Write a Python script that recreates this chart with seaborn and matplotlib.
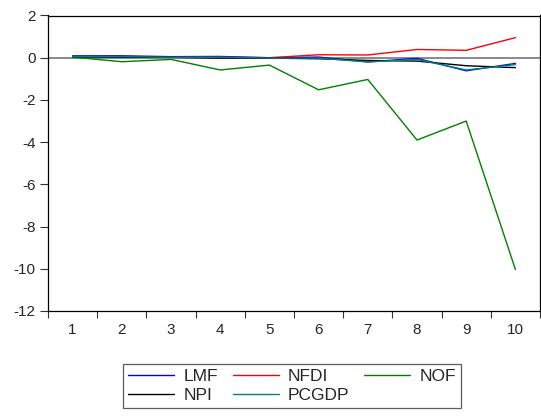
import matplotlib
matplotlib.use("Agg")
import matplotlib.pyplot as plt
import seaborn as sns
import pandas as pd
from matplotlib.ticker import FixedLocator

periods = [1, 2, 3, 4, 5, 6, 7, 8, 9, 10]
lmf = [0.09, 0.09, 0.05, 0.06, 0.00, 0.03, -0.20, -0.03, -0.62, -0.27]
nfdi = [0.05, 0.05, 0.02, 0.02, 0.00, 0.14, 0.13, 0.39, 0.35, 0.95]
nof = [0.03, -0.19, -0.08, -0.58, -0.35, -1.52, -1.03, -3.90, -3.00, -10.03]
npi = [0.05, 0.02, 0.02, -0.02, -0.02, -0.05, -0.13, -0.16, -0.38, -0.47]
pcgdp = [0.06, 0.05, 0.02, 0.02, -0.02, -0.02, -0.20, -0.08, -0.58, -0.33]

series_names = ["LMF", "NFDI", "NOF", "NPI", "PCGDP"]
series_values = [lmf, nfdi, nof, npi, pcgdp]
colors = ["#0000FF", "#FF0000", "#008000", "#000000", "#008080"]

df = pd.DataFrame(
    [(p, name, v) for name, vals in zip(series_names, series_values)
     for p, v in zip(periods, vals)],
    columns=["period", "series", "value"],
)

sns.set_style("white")
plt.rcParams["font.family"] = ["Liberation Sans", "DejaVu Sans"]
plt.rcParams["axes.unicode_minus"] = False

fig = plt.figure(figsize=(5.41, 4.19), dpi=100)
ax = fig.add_axes([48 / 541, 1 - 311 / 419, 492 / 541, 295.5 / 419])

ax.axhline(0, color="#808080", lw=1.3, zorder=1)
sns.lineplot(data=df, x="period", y="value", hue="series",
             palette=dict(zip(series_names, colors)), lw=1.0,
             ax=ax, legend=True, zorder=3)

ax.set_xlim(0.5, 10.5)
ax.set_ylim(-12, 2)
ax.set_xlabel("")
ax.set_ylabel("")

ax.xaxis.set_major_locator(FixedLocator(periods))
ax.set_xticklabels([str(p) for p in periods])
ax.xaxis.set_minor_locator(FixedLocator([p - 0.5 for p in periods] + [10.5]))
ax.tick_params(axis="x", which="major", length=0, pad=9, labelsize=11)
ax.tick_params(axis="x", which="minor", length=5, width=0.8,
               direction="out", bottom=True, color="#333333")
ax.set_yticks([2, 0, -2, -4, -6, -8, -10, -12])
ax.tick_params(axis="y", which="major", length=6, width=0.8, direction="out",
               left=True, pad=3, labelsize=11, color="#333333")

for s in ax.spines.values():
    s.set_color("black")
    s.set_linewidth(0.9)

handles, labels = ax.get_legend_handles_labels()
hmap = dict(zip(labels, handles))
order = ["LMF", "NPI", "NFDI", "PCGDP", "NOF"]
ax.legend_.remove()
leg = fig.legend([hmap[k] for k in order], order, ncol=3,
                 loc="upper left", bbox_to_anchor=(123 / 541, 1 - 364 / 419),
                 fontsize=12.5, handlelength=2.65, handletextpad=0.52,
                 columnspacing=0.87, labelspacing=0.2, borderpad=0.3,
                 frameon=True, fancybox=False, borderaxespad=0)
leg.get_frame().set_edgecolor("#333333")
leg.get_frame().set_linewidth(0.9)

fig.savefig("out.png", dpi=100)
